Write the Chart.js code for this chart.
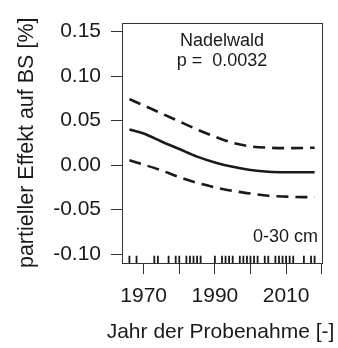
<!DOCTYPE html>
<html>
<head>
<meta charset="utf-8">
<script src="https://cdn.jsdelivr.net/npm/chart.js@4"></script>
<style>
  html, body { margin: 0; padding: 0; background: #fff; }
  #wrap { width: 338px; height: 348px; }
</style>
</head>
<body>
<div id="wrap"><canvas id="c" width="338" height="348"></canvas></div>
<script>
// Partial effect of sampling year on BS (conifer forest, 0-30 cm)
const years   = [1966, 1970, 1975, 1980, 1985, 1990, 1995, 2000, 2005, 2010, 2015, 2018];
const fit     = [0.040, 0.0355, 0.0265, 0.018, 0.0095, 0.003, -0.002, -0.0055, -0.0075, -0.008, -0.008, -0.008];
const upperCI = [0.074, 0.067, 0.058, 0.049, 0.040, 0.032, 0.025, 0.021, 0.0195, 0.019, 0.0192, 0.0195];
const lowerCI = [0.0055, 0.0005, -0.006, -0.0135, -0.020, -0.025, -0.029, -0.032, -0.0345, -0.0355, -0.036, -0.036];

// sampling years shown as a rug along the bottom
const rugYears = [1966, 1968, 1973, 1974, 1977, 1979, 1980, 1982, 1983, 1984, 1985, 1986,
                  1990, 1992, 1993, 1994, 1995, 1997, 1998, 1999, 2000, 2001, 2002,
                  2004, 2005, 2007, 2008, 2009, 2010, 2011, 2012, 2015, 2017, 2018];

const xTicks = [1970, 1980, 1990, 2000, 2010, 2020];
const xTickLabels = ['1970', '', '1990', '', '2010', ''];
const yTicks = [-0.10, -0.05, 0.00, 0.05, 0.10, 0.15];

const panelTitle = 'Nadelwald';
const pLabel = 'p =  0.0032';
const depthLabel = '0-30 cm';
const xTitle = 'Jahr der Probenahme [-]';
const yTitle = 'partieller Effekt auf BS [%]';

const FONT = "'Liberation Sans', Arial, Helvetica, sans-serif";
const INK = '#1a1a1a';

const toPts = (ys) => years.map((x, i) => ({ x, y: ys[i] }));

const boxPlugin = {
  id: 'box',
  afterDatasetsDraw(chart) {
    const { ctx, chartArea: a } = chart;
    ctx.save();
    ctx.strokeStyle = '#333';
    ctx.lineWidth = 1;
    ctx.strokeRect(Math.round(a.left) + 0.5, Math.round(a.top) + 0.5,
                   Math.round(a.right - a.left), Math.round(a.bottom - a.top));
    ctx.restore();
  }
};

const rugPlugin = {
  id: 'rug',
  afterDatasetsDraw(chart) {
    const { ctx, chartArea: a, scales } = chart;
    const len = (a.bottom - a.top) * 0.03;
    ctx.save();
    ctx.strokeStyle = INK;
    ctx.lineWidth = 1.8;
    ctx.beginPath();
    rugYears.forEach(yr => {
      const x = scales.x.getPixelForValue(yr);
      ctx.moveTo(x, a.bottom);
      ctx.lineTo(x, a.bottom - len);
    });
    ctx.stroke();
    ctx.restore();
  }
};

// panel annotations and the x-axis title (drawn at natural width)
const textPlugin = {
  id: 'labels',
  afterDatasetsDraw(chart) {
    const { ctx, chartArea: a } = chart;
    const cx = (a.left + a.right) / 2;
    ctx.save();
    ctx.fillStyle = INK;
    ctx.font = '18px ' + FONT;
    ctx.textAlign = 'center';
    ctx.textBaseline = 'middle';
    ctx.fillText(panelTitle, cx, a.top + 18);
    ctx.fillText(pLabel, cx, a.top + 38);
    ctx.textAlign = 'right';
    ctx.fillText(depthLabel, a.right - 4, a.bottom - 26);
    ctx.textAlign = 'center';
    ctx.font = '21px ' + FONT;
    ctx.fillText(xTitle, cx - 1.5, chart.height - 16);
    ctx.restore();
  }
};

new Chart(document.getElementById('c'), {
  type: 'line',
  data: {
    datasets: [
      { data: toPts(upperCI), borderColor: INK, borderWidth: 2.6, borderDash: [12, 7], pointRadius: 0, cubicInterpolationMode: 'monotone', fill: false },
      { data: toPts(fit),     borderColor: INK, borderWidth: 2.6, pointRadius: 0, cubicInterpolationMode: 'monotone', fill: false },
      { data: toPts(lowerCI), borderColor: INK, borderWidth: 2.6, borderDash: [12, 7], pointRadius: 0, cubicInterpolationMode: 'monotone', fill: false }
    ]
  },
  options: {
    responsive: false,
    animation: false,
    devicePixelRatio: 1,
    layout: { padding: { left: 0, top: 9, right: 16, bottom: 0 } },
    plugins: { legend: { display: false }, tooltip: { enabled: false } },
    scales: {
      x: {
        type: 'linear',
        min: 1963.92, max: 2020.08,
        afterFit(s) { s.height = 85; },
        afterBuildTicks(s) { s.ticks = xTicks.map(v => ({ value: v })); },
        grid: { drawOnChartArea: false, drawTicks: true, tickLength: 11, color: '#333', lineWidth: 1 },
        border: { display: false },
        ticks: {
          autoSkip: false, maxRotation: 0, padding: 10,
          color: INK, font: { family: FONT, size: 21 },
          callback: (v) => xTickLabels[xTicks.indexOf(v)] ?? ''
        },
        title: { display: false }
      },
      y: {
        min: -0.11, max: 0.16,
        afterFit(s) { s.width = 122; },
        afterBuildTicks(s) { s.ticks = yTicks.map(v => ({ value: v })); },
        grid: { drawOnChartArea: false, drawTicks: true, tickLength: 11, color: '#333', lineWidth: 1 },
        border: { display: false },
        ticks: {
          autoSkip: false, padding: 10,
          color: INK, font: { family: FONT, size: 21 },
          callback: (v) => v.toFixed(2)
        },
        title: { display: true, text: yTitle, color: INK,
                 font: { family: FONT, size: 21.5 }, padding: { top: 14, bottom: 0 } }
      }
    }
  },
  plugins: [boxPlugin, rugPlugin, textPlugin]
});
</script>
</body>
</html>
